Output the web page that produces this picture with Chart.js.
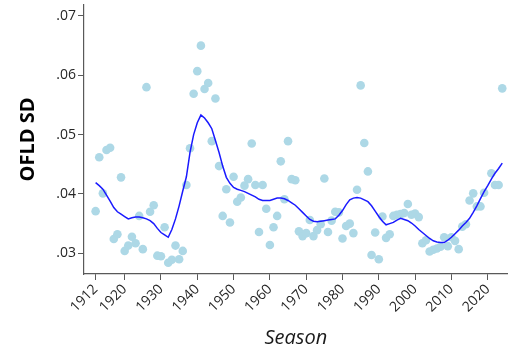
<!DOCTYPE html>
<html>
<head>
<meta charset="utf-8">
<script src="https://cdn.jsdelivr.net/npm/chart.js@4"></script>
<style>
  html, body { margin: 0; padding: 0; background: #fff; }
  #wrap { width: 512px; height: 358px; position: relative; }
</style>
</head>
<body>
<div id="wrap"><canvas id="sdChart"></canvas></div>
<script>
"use strict";

// ── data ──
const seasons = [
  1912, 1913, 1914, 1915, 1916, 1917, 1918, 1919, 1920, 1921,
  1922, 1923, 1924, 1925, 1926, 1927, 1928, 1929, 1930, 1931,
  1932, 1933, 1934, 1935, 1936, 1937, 1938, 1939, 1940, 1941,
  1942, 1943, 1944, 1945, 1946, 1947, 1948, 1949, 1950, 1951,
  1952, 1953, 1954, 1955, 1956, 1957, 1958, 1959, 1960, 1961,
  1962, 1963, 1964, 1965, 1966, 1967, 1968, 1969, 1970, 1971,
  1972, 1973, 1974, 1975, 1976, 1977, 1978, 1979, 1980, 1981,
  1982, 1983, 1984, 1985, 1986, 1987, 1988, 1989, 1990, 1991,
  1992, 1993, 1994, 1995, 1996, 1997, 1998, 1999, 2000, 2001,
  2002, 2003, 2004, 2005, 2006, 2007, 2008, 2009, 2010, 2011,
  2012, 2013, 2014, 2015, 2016, 2017, 2018, 2019, 2020, 2021,
  2022, 2023, 2024,
];

// yearly OFLD SD (dots)
const ofldSd = [
  .0371, .0462, .0401, .0474, .0478, .0324, .0332, .0428, .0304, .0313,
  .0328, .0317, .0363, .0307, .0580, .0370, .0381, .0296, .0295, .0344,
  .0284, .0289, .0313, .0290, .0304, .0415, .0477, .0569, .0607, .0650,
  .0577, .0587, .0489, .0561, .0447, .0363, .0408, .0352, .0429, .0387,
  .0394, .0414, .0425, .0485, .0415, .0336, .0415, .0375, .0314, .0344,
  .0363, .0455, .0391, .0489, .0425, .0423, .0337, .0329, .0334, .0356,
  .0329, .0339, .0349, .0426, .0336, .0355, .0370, .0369, .0325, .0346,
  .0350, .0334, .0407, .0583, .0486, .0438, .0297, .0335, .0290, .0362,
  .0326, .0332, .0363, .0365, .0366, .0368, .0383, .0365, .0367, .0361,
  .0317, .0322, .0303, .0306, .0308, .0311, .0327, .0312, .0327, .0321,
  .0307, .0345, .0349, .0389, .0401, .0379, .0379, .0402, null,  .0435,
  .0415, .0415, .0578,
];

// smoothed trend (blue line)
const ofldTrend = [
  .0419, .0414, .0408, .0398, .0388, .0377, .0370, .0366, .0362, .0358,
  .0360, .0361, .0361, .0360, .0358, .0355, .0350, .0342, .0335, .0331,
  .0327, .0340, .0358, .0380, .0405, .0429, .0470, .0500, .0520, .0533,
  .0528, .0520, .0510, .0490, .0470, .0447, .0428, .0418, .0411, .0408,
  .0406, .0404, .0401, .0398, .0395, .0391, .0389, .0389, .0389, .0391,
  .0393, .0393, .0392, .0389, .0385, .0381, .0375, .0369, .0363, .0357,
  .0354, .0353, .0354, .0355, .0356, .0357, .0358, .0364, .0372, .0382,
  .0390, .0393, .0394, .0393, .0390, .0387, .0380, .0371, .0362, .0354,
  .0348, .0350, .0352, .0356, .0359, .0357, .0355, .0351, .0346, .0340,
  .0335, .0330, .0325, .0321, .0319, .0318, .0318, .0322, .0327, .0333,
  .0339, .0346, .0352, .0359, .0369, .0380, .0392, .0404, .0414, .0425,
  .0435, .0443, .0452,
];

const xTicks = [1912, 1920, 1930, 1940, 1950, 1960, 1970, 1980, 1990, 2000, 2010, 2020];
const yTicks = [.03, .04, .05, .06, .07];

const AXIS = "#595959";
const TICK_FONT = { family: "Open Sans", size: 14 };

const pts = (arr) => seasons.map((s, i) => ({ x: s, y: arr[i] }));

new Chart(document.getElementById("sdChart"), {
  type: "scatter",
  data: {
    datasets: [
      {
        label: "trend",
        data: pts(ofldTrend),
        showLine: true,
        borderColor: "#1a1aff",
        borderWidth: 1.5,
        pointRadius: 0,
        fill: false,
        tension: 0,
        order: 0,
      },
      {
        label: "OFLD SD",
        data: pts(ofldSd),
        backgroundColor: "#add8e6",
        borderWidth: 0,
        pointRadius: 4.3,
        order: 1,
      },
    ],
  },
  options: {
    responsive: true,
    maintainAspectRatio: false,
    animation: false,
    layout: { padding: { top: 5, right: 0, left: 0, bottom: 0 } },
    plugins: { legend: { display: false }, tooltip: { enabled: false } },
    scales: {
      x: {
        type: "linear",
        min: 1908.8,
        max: 2025.5,
        afterBuildTicks: (s) => { s.ticks = xTicks.map((v) => ({ value: v })); },
        afterFit: (s) => { s.height = 84; s.paddingLeft = 0; s.paddingRight = 0; },
        ticks: {
          autoSkip: false,
          minRotation: 45,
          maxRotation: 45,
          padding: 1,
          color: "#262626",
          font: TICK_FONT,
          callback: (v) => String(v),
        },
        grid: { drawOnChartArea: false, drawTicks: true, tickLength: 6, color: AXIS },
        border: { color: AXIS, width: 1.2 },
        title: {
          display: true,
          text: "Season",
          color: "#1a1a1a",
          font: { family: "Open Sans", size: 20, style: "italic" },
          padding: { top: 0, bottom: 8 },
        },
      },
      y: {
        min: 0.02651,
        max: 0.07185,
        afterBuildTicks: (s) => { s.ticks = yTicks.map((v) => ({ value: v })); },
        afterFit: (s) => { s.width = 84; s.paddingTop = 0; s.paddingBottom = 0; },
        ticks: {
          padding: 2,
          color: "#262626",
          font: TICK_FONT,
          callback: (v) => v.toFixed(2).replace(/^0/, ""),
        },
        grid: { drawOnChartArea: false, drawTicks: true, tickLength: 6, color: AXIS },
        border: { color: AXIS, width: 1.2 },
        title: {
          display: true,
          text: "OFLD SD",
          color: "#000",
          font: { family: "Open Sans", size: 20, weight: "bold" },
          padding: { top: 16, bottom: 0 },
        },
      },
    },
  },
});
</script>
</body>
</html>
